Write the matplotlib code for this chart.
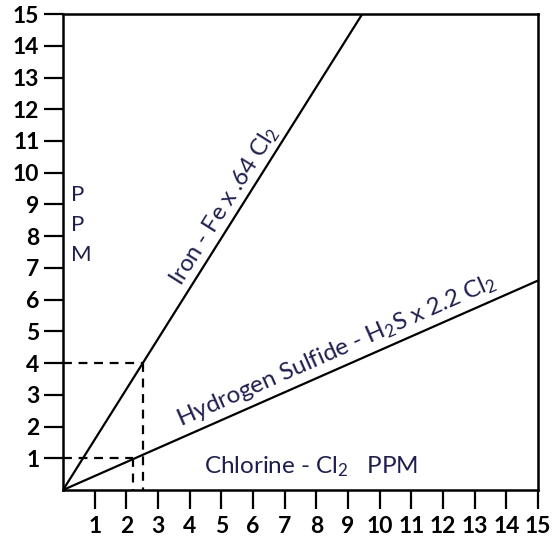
import matplotlib.pyplot as plt

plt.rcParams['font.family'] = ['Lato', 'DejaVu Sans']
plt.rcParams['mathtext.fontset'] = 'custom'
plt.rcParams['mathtext.rm'] = 'Lato'
plt.rcParams['mathtext.it'] = 'Lato'

# data (chlorine ppm on x, ppm on y)
iron_x = [0, 9.45]
iron_y = [0, 15]
h2s_x = [0, 15]
h2s_y = [0, 6.6]

# worked examples: 4 ppm iron, 1 ppm H2S
iron_ex = (2.53, 4)
h2s_ex = (2.2, 1)

ticks = list(range(1, 16))
navy = "#1f1f4f"

fig = plt.figure(figsize=(5.59, 5.40), dpi=100)
ax = fig.add_axes([0.1127, 0.0926, 0.8497, 0.8814])

ax.plot(iron_x, iron_y, color="black", lw=1.6, solid_capstyle="butt")
ax.plot(h2s_x, h2s_y, color="black", lw=1.6, solid_capstyle="butt")

for ex_x, ex_y in [iron_ex, h2s_ex]:
    ax.plot([0, ex_x], [ex_y, ex_y], color="black", lw=1.6, ls=(0, (4, 3)))
    ax.plot([ex_x, ex_x], [ex_y, 0], color="black", lw=1.6, ls=(0, (4, 3)))

ax.set_xlim(0, 15)
ax.set_ylim(0, 15)
ax.set_xticks(ticks)
ax.set_yticks(ticks)
ax.tick_params(axis="both", direction="out", length=14, width=1.6,
               labelsize=16.5, colors="black")
ax.tick_params(axis="x", pad=5)
ax.tick_params(axis="y", pad=3)
for lbl in ax.get_xticklabels() + ax.get_yticklabels():
    lbl.set_fontweight("bold")
for s in ax.spines.values():
    s.set_linewidth(1.8)

ax.text(5.1, 8.95, r"Iron - Fe x .64 Cl$_{2}$", color=navy, fontsize=17,
        rotation=57.8, ha="center", va="center", rotation_mode="anchor")
ax.text(8.65, 4.4, r"Hydrogen Sulfide - H$_{2}$S x 2.2 Cl$_{2}$", color=navy,
        fontsize=17.5, rotation=23.8, ha="center", va="center", rotation_mode="anchor")
ax.text(4.45, 0.72, r"Chlorine - Cl$_{2}$   PPM", color=navy, fontsize=17.5,
        ha="left", va="center")
ax.text(0.26, 8.35, "P\nP\nM", color=navy, fontsize=16, ha="left", va="center",
        linespacing=1.6)

fig.savefig("out.png", dpi=100)
